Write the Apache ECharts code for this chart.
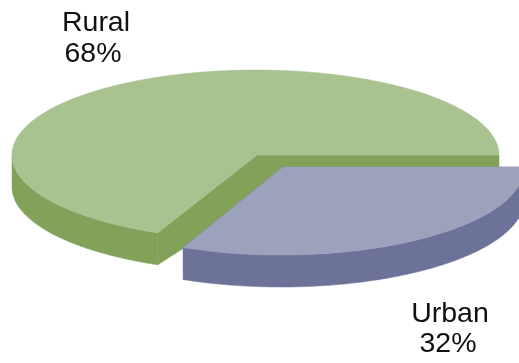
<!DOCTYPE html>
<html>
<head>
<meta charset="utf-8">
<style>html,body{margin:0;padding:0;background:#fff}#c{width:519px;height:363px}</style>
<script src="https://cdn.jsdelivr.net/npm/echarts@6/dist/echarts.min.js"></script>
</head>
<body>
<div id="c"></div>
<script>
const categories = ['Rural', 'Urban'];
const values = [68, 32];

// drawing style per category (not data)
const looks = {
  Rural: { hub: [257, 155], cx: 255.5, cy: 155, rx: 243.5, ry: 85, hubDrop: 46, top: '#a8c290', side: '#82a259',
           label: [96, 23], pct: [93, 54] },
  Urban: { hub: [283, 167], cx: 281, cy: 167, rx: 243.5, ry: 88, hubDrop: 32, top: '#9ca1bc', side: '#6d7299',
           label: [450, 314], pct: [448, 344] }
};
const DEPTH = 32;
const PERSP = 1.7; // degrees of perspective warp of the rim
const FONT = '28.5px "Liberation Sans", Arial, sans-serif';
const total = values.reduce((a, b) => a + b, 0);

// Slices run clockwise from 3 o'clock, Urban first, then Rural round to 360
function sweep(name) {
  const urban = values[categories.indexOf('Urban')] / total * 360;
  return name === 'Urban' ? [0, urban] : [urban, 360];
}
function rim(l, deg) {
  const a = (deg - PERSP * Math.sin(deg * Math.PI / 180)) * Math.PI / 180;
  return [l.cx + l.rx * Math.cos(a), l.cy + l.ry * Math.sin(a)];
}
const down = p => [p[0], p[1] + DEPTH];
const poly = (points, fill) => ({ type: 'polygon', shape: { points }, style: { fill, stroke: fill, lineWidth: 0.5 } });
const text = (str, pos) => ({ type: 'text', style: { text: str, x: pos[0], y: pos[1], font: FONT, fill: '#111', align: 'center', verticalAlign: 'middle' } });

function renderItem(params, api) {
  const name = categories[api.value(0)];
  const value = api.value(1);
  const l = looks[name];
  const [a0, a1] = sweep(name);
  const arc = [];
  for (let d = a0; d < a1; d += 1) arc.push(rim(l, d));
  arc.push(rim(l, a1));
  const children = [];
  // cut faces
  const hubLow = [l.hub[0], l.hub[1] + l.hubDrop];
  [arc[0], arc[arc.length - 1]].forEach(p => {
    children.push(poly([l.hub, p, down(p), hubLow], l.side));
  });
  // outer wall: only the front half (sin > 0) is visible
  const front = [];
  for (let d = a0; d <= a1; d += 1) if (d <= 180) front.push(rim(l, d));
  if (a1 <= 180) front.push(rim(l, a1));
  if (front.length > 1) children.push(poly(front.concat(front.map(down).reverse()), l.side));
  // top surface
  children.push(poly([l.hub].concat(arc), l.top));
  // labels
  children.push(text(name, l.label));
  children.push(text(Math.round(value / total * 100) + '%', l.pct));
  return { type: 'group', children };
}

const chart = echarts.init(document.getElementById('c'), null, { renderer: 'canvas' });
chart.setOption({
  animation: false,
  backgroundColor: '#fff',
  series: [{
    type: 'custom',
    coordinateSystem: 'none',
    renderItem,
    data: categories.map((c, i) => [i, values[i]])
  }]
});
</script>
</body>
</html>
